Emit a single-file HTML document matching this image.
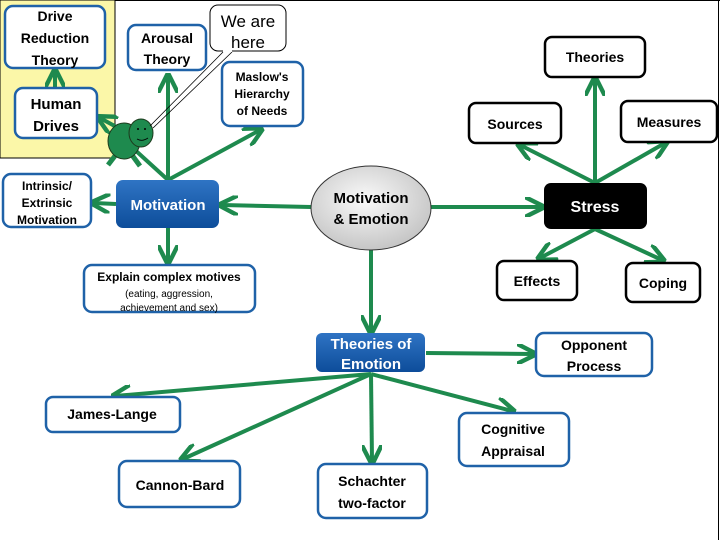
<!DOCTYPE html>
<html><head><meta charset="utf-8"><style>
html,body{margin:0;padding:0;background:#fff;}
svg{display:block;font-family:"Liberation Sans",sans-serif;font-weight:bold;}
</style></head><body>
<svg width="720" height="540" viewBox="0 0 720 540" xmlns="http://www.w3.org/2000/svg">
<defs>
<marker id="a" viewBox="0 0 10 10" refX="8" refY="5" markerWidth="5" markerHeight="5" orient="auto-start-reverse" markerUnits="strokeWidth">
<path d="M0,0 L10,5 L0,10" fill="none" stroke="#1e8a4e" stroke-width="2.2"/>
</marker>
<linearGradient id="bl" x1="0" y1="0" x2="0" y2="1"><stop offset="0" stop-color="#2f74c4"/><stop offset="1" stop-color="#0d4d9a"/></linearGradient>
<radialGradient id="gr" cx="0.45" cy="0.4" r="0.7"><stop offset="0" stop-color="#fafafa"/><stop offset="1" stop-color="#bdbdbd"/></radialGradient>
</defs>
<rect x="0" y="0" width="720" height="540" fill="#fff"/>
<line x1="0" y1="0.5" x2="720" y2="0.5" stroke="#000"/>
<line x1="718.5" y1="0" x2="718.5" y2="540" stroke="#000"/>
<rect x="0" y="0" width="115" height="158" fill="#fbf7a8" stroke="#000" stroke-width="1"/>

<g stroke="#1e8a4e" stroke-width="4" fill="none">
<line x1="55" y1="87" x2="55" y2="72" marker-end="url(#a)"/>
<line x1="168" y1="180" x2="168" y2="77" marker-end="url(#a)"/>
<line x1="168" y1="180" x2="260" y2="130" marker-end="url(#a)"/>
<line x1="168" y1="180" x2="135" y2="150"/>
<line x1="122" y1="130" x2="100" y2="118" marker-end="url(#a)"/>
<line x1="116" y1="204" x2="94" y2="203" marker-end="url(#a)"/>
<line x1="311" y1="207" x2="222" y2="205" marker-end="url(#a)"/>
<line x1="168" y1="228" x2="168" y2="261" marker-end="url(#a)"/>
<line x1="431" y1="207" x2="541" y2="207" marker-end="url(#a)"/>
<line x1="595" y1="183" x2="595" y2="80" marker-end="url(#a)"/>
<line x1="595" y1="183" x2="520" y2="145" marker-end="url(#a)"/>
<line x1="595" y1="183" x2="665" y2="143" marker-end="url(#a)"/>
<line x1="595" y1="229" x2="540" y2="258" marker-end="url(#a)"/>
<line x1="595" y1="229" x2="662" y2="260" marker-end="url(#a)"/>
<line x1="371" y1="250" x2="371" y2="331" marker-end="url(#a)"/>
<line x1="426" y1="353" x2="533" y2="354" marker-end="url(#a)"/>
<line x1="371" y1="374" x2="115" y2="396" marker-end="url(#a)"/>
<line x1="371" y1="374" x2="183" y2="459" marker-end="url(#a)"/>
<line x1="371" y1="374" x2="372" y2="461" marker-end="url(#a)"/>
<line x1="371" y1="374" x2="512" y2="411" marker-end="url(#a)"/>
</g>

<!-- creature -->
<g stroke="#1d3a1d" stroke-width="1" fill="#1e8a4e">
<line x1="118" y1="152" x2="108" y2="165" stroke="#1e8a4e" stroke-width="5"/>
<line x1="132" y1="155" x2="140" y2="166" stroke="#1e8a4e" stroke-width="5"/>
<ellipse cx="124" cy="141" rx="16" ry="18"/>
<ellipse cx="141" cy="133" rx="12" ry="14"/>
</g>
<circle cx="138" cy="129" r="1" fill="#000"/><circle cx="145" cy="129" r="1" fill="#000"/>
<path d="M137,139 Q142,142 148,138" stroke="#000" fill="none" stroke-width="0.8"/>
<!-- callout -->
<path d="M150,126 L223,52 M153,128 L232,52" stroke="#000" stroke-width="0.8" fill="none"/>
<rect x="210" y="5" width="76" height="46" rx="8" fill="#fff" stroke="#000" stroke-width="1"/>
<path d="M223,51 L232,51" stroke="#fff" stroke-width="2"/>
<text x="248" y="27" font-size="17" font-weight="normal" text-anchor="middle">We are</text>
<text x="248" y="48" font-size="17" font-weight="normal" text-anchor="middle">here</text>

<g fill="#fff" stroke="#1f62a8" stroke-width="2.5">
<rect x="5" y="6" width="100" height="62" rx="8"/>
<rect x="15" y="88" width="82" height="50" rx="8"/>
<rect x="128" y="25" width="78" height="45" rx="8"/>
<rect x="222" y="62" width="81" height="64" rx="8"/>
<rect x="3" y="174" width="88" height="53" rx="8"/>
<rect x="84" y="265" width="171" height="47" rx="8"/>
<rect x="536" y="333" width="116" height="43" rx="8"/>
<rect x="46" y="397" width="134" height="35" rx="7"/>
<rect x="119" y="461" width="121" height="46" rx="8"/>
<rect x="318" y="464" width="109" height="54" rx="8"/>
<rect x="459" y="413" width="110" height="53" rx="8"/>
</g>
<g fill="#fff" stroke="#000" stroke-width="2.5">
<rect x="545" y="37" width="100" height="40" rx="7"/>
<rect x="469" y="103" width="92" height="40" rx="7"/>
<rect x="621" y="101" width="96" height="41" rx="7"/>
<rect x="497" y="261" width="80" height="39" rx="7"/>
<rect x="626" y="263" width="74" height="39" rx="7"/>
</g>
<rect x="544" y="183" width="103" height="46" rx="7" fill="#000"/>
<rect x="116" y="180" width="103" height="48" rx="7" fill="url(#bl)"/>
<rect x="316" y="333" width="109" height="39" rx="6" fill="url(#bl)"/>
<ellipse cx="371" cy="208" rx="60" ry="42" fill="url(#gr)" stroke="#333" stroke-width="1"/>

<g font-size="14" text-anchor="middle" fill="#000">
<text x="55" y="21">Drive</text><text x="55" y="43">Reduction</text><text x="55" y="65">Theory</text>
<text x="56" y="109" font-size="15">Human</text><text x="56" y="131" font-size="15">Drives</text>
<text x="167" y="43">Arousal</text><text x="167" y="64">Theory</text>
<text x="262" y="81" font-size="12">Maslow's</text><text x="262" y="98" font-size="12">Hierarchy</text><text x="262" y="115" font-size="12">of Needs</text>
<text x="47" y="190" font-size="12">Intrinsic/</text><text x="47" y="207" font-size="12">Extrinsic</text><text x="47" y="224" font-size="12">Motivation</text>
<text x="169" y="281" font-size="12">Explain complex motives</text>
<text x="169" y="297" font-size="10" font-weight="normal">(eating, aggression,</text>
<text x="169" y="311" font-size="10" font-weight="normal">achievement and sex)</text>
<text x="371" y="203" font-size="15">Motivation</text><text x="371" y="224" font-size="15">&amp; Emotion</text>
<text x="595" y="62">Theories</text>
<text x="515" y="129">Sources</text>
<text x="669" y="127">Measures</text>
<text x="537" y="286">Effects</text>
<text x="663" y="288">Coping</text>
<text x="594" y="350">Opponent</text><text x="594" y="371">Process</text>
<text x="112" y="419">James-Lange</text>
<text x="180" y="490">Cannon-Bard</text>
<text x="372" y="486">Schachter</text><text x="372" y="508">two-factor</text>
<text x="513" y="434">Cognitive</text><text x="513" y="456">Appraisal</text>
</g>
<g font-size="15" text-anchor="middle" fill="#fff">
<text x="168" y="210">Motivation</text>
<text x="595" y="212" font-size="16">Stress</text>
<text x="371" y="349">Theories of</text><text x="371" y="369">Emotion</text>
</g>
</svg>
</body></html>
